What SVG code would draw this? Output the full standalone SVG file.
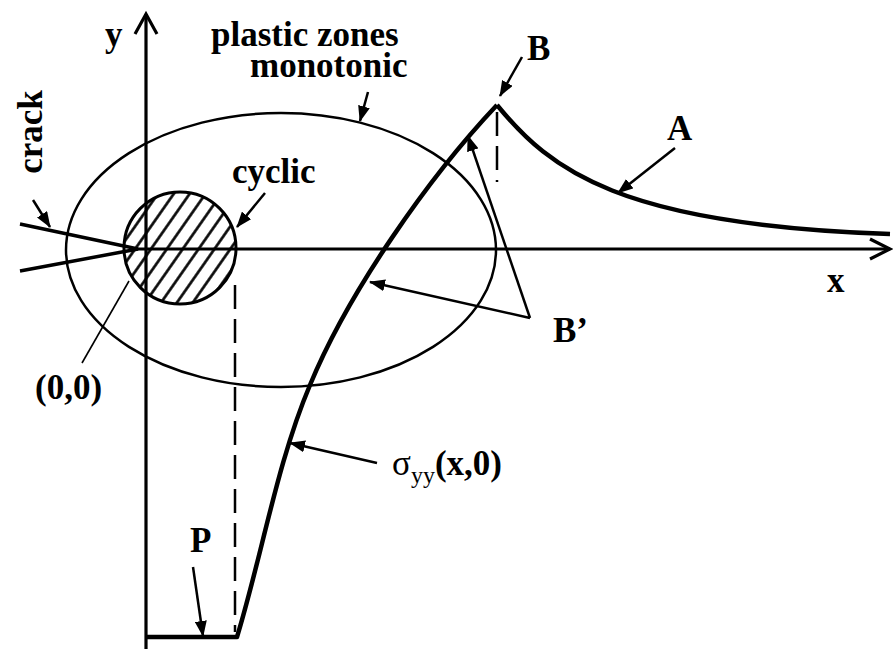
<svg xmlns="http://www.w3.org/2000/svg" width="893" height="649" viewBox="0 0 893 649">
<style>
.lbl{font-family:"Liberation Serif","Times New Roman",serif;font-weight:bold;font-size:35px;fill:#000}
.ax{fill:none;stroke:#000;stroke-width:3.2}
.crv{fill:none;stroke:#000;stroke-width:4.5;stroke-linejoin:round}
.thin{fill:none;stroke:#000;stroke-width:2.5}
.arr{fill:none;stroke:#000;stroke-width:2.5;marker-end:url(#ah)}
.dash{fill:none;stroke:#000;stroke-width:2.5;stroke-dasharray:24 10}
</style>
<defs>
<marker id="ah" markerUnits="userSpaceOnUse" markerWidth="16" markerHeight="12" refX="15" refY="6" orient="auto">
<path d="M0,0 L16,6 L0,12 z" fill="#000"/>
</marker>
<pattern id="hatch" width="13" height="13" patternUnits="userSpaceOnUse" patternTransform="rotate(35)">
<rect width="13" height="13" fill="#fff"/>
<line x1="6.5" y1="0" x2="6.5" y2="13" stroke="#000" stroke-width="2.6"/>
</pattern>
</defs>
<rect width="893" height="649" fill="#fff"/>

<g id="monotonic-zone">
<ellipse cx="281" cy="250" rx="215" ry="137" class="thin"/>
</g>
<g id="cyclic-zone">
<circle cx="180" cy="248" r="56" fill="url(#hatch)" stroke="#000" stroke-width="3"/>
</g>

<g id="axes">
<line x1="146" y1="14" x2="146" y2="649" class="ax"/>
<polyline points="135,34 146,14 157,34" class="ax"/>
<line x1="136" y1="249" x2="890" y2="249" class="ax" stroke-width="3.6"/>
<polyline points="870,239 890,249 870,259" class="ax"/>
</g>

<g id="crack">
<path d="M20,224 L138,249 L20,271" fill="none" stroke="#000" stroke-width="3.5"/>
</g>

<g id="stress-curve">
<path d="M497,105 C428,178 348,293 310,385 C277,463 262,555 237,637 L147,637" class="crv"/>
<path d="M497,105 C550,170 620,225 890,234" class="crv"/>
</g>

<g id="dashed-lines">
<line x1="235" y1="285" x2="235" y2="632" class="dash"/>
<line x1="497" y1="112" x2="497" y2="182" class="dash"/>
</g>

<g id="connectors">
<line x1="33" y1="200" x2="50" y2="227" class="arr"/>
<line x1="368" y1="92" x2="360" y2="121" class="arr"/>
<line x1="265" y1="193" x2="237" y2="227" class="arr"/>
<line x1="522" y1="57" x2="500" y2="96" class="arr"/>
<line x1="675" y1="148" x2="618" y2="193" class="arr"/>
<line x1="530" y1="318" x2="370" y2="282" class="arr"/>
<line x1="530" y1="318" x2="468" y2="136" class="arr"/>
<line x1="377" y1="463" x2="290" y2="443" class="arr"/>
<line x1="193" y1="567" x2="203" y2="636" class="arr"/>
<line x1="82" y1="363" x2="129" y2="281" fill="none" stroke="#000" stroke-width="1.6"/>
</g>

<g id="labels">
<text class="lbl" x="105" y="46">y</text>
<text class="lbl" x="211" y="46">plastic zones</text>
<text class="lbl" x="250" y="77">monotonic</text>
<text class="lbl" transform="translate(42,132) rotate(-90)" text-anchor="middle">crack</text>
<text class="lbl" x="232" y="183">cyclic</text>
<text class="lbl" x="527" y="60">B</text>
<text class="lbl" x="667" y="140">A</text>
<text class="lbl" x="827" y="292">x</text>
<text class="lbl" x="553" y="342">B’</text>
<text class="lbl" x="35" y="399">(0,0)</text>
<text class="lbl" x="190" y="552">P</text>
<text class="lbl" x="392" y="475"><tspan font-weight="normal">σ</tspan><tspan font-size="24" font-weight="normal" dy="8">yy</tspan><tspan dy="-8">(x,0)</tspan></text>
</g>
</svg>
